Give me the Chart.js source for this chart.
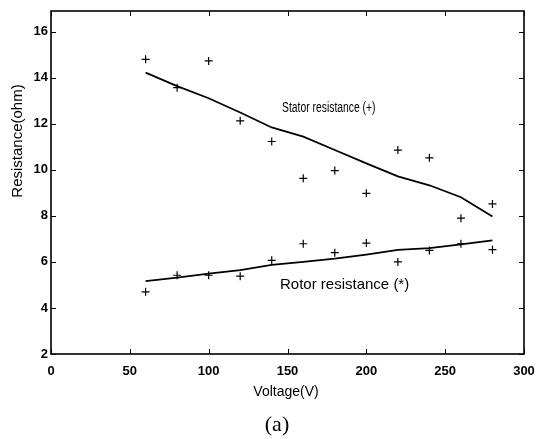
<!DOCTYPE html>
<html>
<head>
<meta charset="utf-8">
<script src="https://cdn.jsdelivr.net/npm/chart.js@4/dist/chart.umd.min.js"></script>
<style>
  html, body { margin: 0; padding: 0; background: #fff; }
  #wrap { width: 536px; height: 439px; }
</style>
</head>
<body>
<div id="wrap"><canvas id="chart" width="536" height="439"></canvas></div>
<script>
// measured voltages (V)
const voltage = [60, 80, 100, 120, 140, 160, 180, 200, 220, 240, 260, 280];

// stator resistance, measured (+) and fitted curve
const statorMeasured = [14.8, 13.57, 14.73, 12.13, 11.23, 9.63, 9.97, 8.98, 10.86, 10.52, 7.9, 8.52];
const statorFit = [14.22, 13.64, 13.11, 12.49, 11.84, 11.44, 10.86, 10.28, 9.72, 9.33, 8.81, 7.97];

// rotor resistance, measured (*) and fitted curve
const rotorMeasured = [4.7, 5.42, 5.42, 5.38, 6.07, 6.79, 6.4, 6.82, 6.0, 6.5, 6.79, 6.53];
const rotorFit = [5.17, 5.32, 5.49, 5.64, 5.87, 6.0, 6.14, 6.32, 6.52, 6.6, 6.76, 6.94];

const xTicks = [0, 50, 100, 150, 200, 250, 300];
const yTicks = [2, 4, 6, 8, 10, 12, 14, 16];

const pts = (ys) => voltage.map((v, i) => ({ x: v, y: ys[i] }));

const tickFont = { family: "'Liberation Sans', Arial, sans-serif", size: 13, weight: 'bold' };

// draw text squeezed horizontally, like the scanned figure
function squeezed(ctx, text, x, y, sx) {
  ctx.save();
  ctx.translate(x, y);
  ctx.scale(sx, 1);
  ctx.fillText(text, 0, 0);
  ctx.restore();
}

// MATLAB style box with inward ticks plus the text labels
const matlabBox = {
  id: 'matlabBox',
  afterDraw(chart) {
    const ctx = chart.ctx;
    const a = chart.chartArea;
    const xs = chart.scales.x, ys = chart.scales.y;
    ctx.save();
    ctx.strokeStyle = '#000';
    ctx.lineWidth = 1.6;
    ctx.strokeRect(a.left, a.top, a.right - a.left, a.bottom - a.top);
    ctx.lineWidth = 1;
    const tl = 5;
    ctx.beginPath();
    xTicks.forEach(v => {
      const px = Math.round(xs.getPixelForValue(v)) + 0.5;
      ctx.moveTo(px, a.bottom); ctx.lineTo(px, a.bottom - tl);
      ctx.moveTo(px, a.top); ctx.lineTo(px, a.top + tl);
    });
    yTicks.forEach(v => {
      const py = Math.round(ys.getPixelForValue(v)) + 0.5;
      ctx.moveTo(a.left, py); ctx.lineTo(a.left + tl, py);
      ctx.moveTo(a.right, py); ctx.lineTo(a.right - tl, py);
    });
    ctx.stroke();

    ctx.fillStyle = '#000';
    ctx.textBaseline = 'middle';

    // curve labels
    ctx.textAlign = 'left';
    ctx.font = "14px 'Liberation Sans', Arial, sans-serif";
    squeezed(ctx, 'Stator resistance (+)', 282, 108, 0.74);
    ctx.font = "15px 'Liberation Sans', Arial, sans-serif";
    ctx.fillText('Rotor resistance (*)', 280, 285);

    // axis titles
    ctx.textAlign = 'center';
    ctx.font = "14px 'Liberation Sans', Arial, sans-serif";
    ctx.fillText('Voltage(V)', 286, 392);
    ctx.save();
    ctx.translate(18, 141);
    ctx.rotate(-Math.PI / 2);
    ctx.font = "15px 'Liberation Sans', Arial, sans-serif";
    ctx.fillText('Resistance(ohm)', 0, 0);
    ctx.restore();

    // caption
    ctx.font = "22px 'Liberation Serif', 'Times New Roman', serif";
    ctx.fillText('(a)', 277, 425);
    ctx.restore();
  }
};

new Chart(document.getElementById('chart'), {
  type: 'scatter',
  data: {
    datasets: [
      {
        label: 'Stator fit',
        data: pts(statorFit),
        showLine: true,
        borderColor: '#000',
        borderWidth: 1.8,
        pointRadius: 0,
        tension: 0
      },
      {
        label: 'Rotor fit',
        data: pts(rotorFit),
        showLine: true,
        borderColor: '#000',
        borderWidth: 1.8,
        pointRadius: 0,
        tension: 0
      },
      {
        label: 'Stator resistance (+)',
        data: pts(statorMeasured),
        pointStyle: 'cross',
        pointRadius: 4,
        borderColor: '#000',
        borderWidth: 1.2
      },
      {
        label: 'Rotor resistance (*)',
        data: pts(rotorMeasured),
        pointStyle: 'cross',
        pointRadius: 4,
        borderColor: '#000',
        borderWidth: 1.2
      }
    ]
  },
  options: {
    responsive: false,
    animation: false,
    layout: { padding: { left: 0, right: 12, top: 11, bottom: 0 } },
    scales: {
      x: {
        type: 'linear',
        min: 0,
        max: 300,
        grid: { display: false, drawTicks: false },
        border: { display: false },
        ticks: { stepSize: 50, color: '#000', font: tickFont, padding: 10, maxRotation: 0 },
        afterFit(scale) {
          scale.height = 85;
          scale.paddingLeft = 0;
          scale.paddingRight = 0;
        }
      },
      y: {
        type: 'linear',
        min: 2,
        max: 16.9,
        grid: { display: false, drawTicks: false },
        border: { display: false },
        ticks: { stepSize: 2, includeBounds: false, color: '#000', font: tickFont, padding: 3 },
        afterFit(scale) {
          scale.width = 51;
          scale.paddingTop = 0;
          scale.paddingBottom = 0;
        }
      }
    },
    plugins: {
      legend: { display: false },
      tooltip: { enabled: false }
    }
  },
  plugins: [matlabBox]
});
</script>
</body>
</html>
